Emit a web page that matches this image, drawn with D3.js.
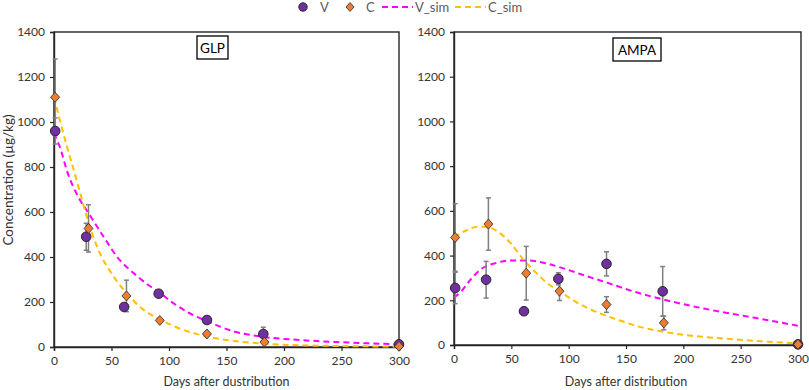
<!DOCTYPE html>
<html>
<head>
<meta charset="utf-8">
<script src="https://cdn.jsdelivr.net/npm/d3@7/dist/d3.min.js"></script>
<style>
  body { margin: 0; background: #fff; }
  text { font-family: Lato, "Noto Sans", sans-serif; }
</style>
</head>
<body>
<script>
// observed days (V and C were sampled a day or two apart)
var daysV = [1, 28, 61, 91, 133, 182, 300];
var daysC = [1, 30, 63, 92, 133, 183, 300];

// GLP observations + error (sd)
var glpV = [960, 490, 178, 237, 120, 58, 12];
var glpVErr = [58, 60, 0, 0, 0, 30, 0];
var glpC = [1110, 527, 227, 118, 58, 22, 3];
var glpCErr = [170, 105, 70, 0, 0, 0, 0];

// AMPA observations + error
var ampaV = [255, 292, 151, 296, 363, 240, 3];
var ampaVErr = [70, 82, 0, 27, 54, 111, 0];
var ampaC = [481, 541, 321, 241, 181, 99, 3];
var ampaCErr = [151, 117, 120, 42, 35, 31, 0];

// simulated curves
var glpVSimDays = [0, 5, 12, 21, 30, 44, 55, 70, 83, 91, 101, 118, 133, 156, 182, 214, 246, 300];
var glpVSim = [950, 890, 772, 668, 595, 483, 400, 325, 272, 245, 205, 150, 115, 70, 45, 31, 22, 12];
var glpCSimDays = [0, 5, 11, 17, 23, 29, 35, 41, 49, 63, 78, 92, 113, 133, 156, 182, 229, 300];
var glpCSim = [1110, 1010, 895, 790, 680, 570, 478, 405, 335, 240, 165, 123, 75, 47, 27, 15, 6, 2];

var ampaVSimDays = [0, 7, 15, 24, 36, 50, 65, 80, 94, 114, 132, 145, 158, 183, 218, 261, 300];
var ampaVSim = [212, 244, 296, 341, 366, 378, 378, 366, 345, 311, 281, 259, 237, 203, 163, 123, 86];
var ampaCSimDays = [0, 10, 21, 30, 39, 50, 60, 71, 82, 93, 109, 126, 144, 162, 183, 203, 232, 261, 300];
var ampaCSim = [481, 511, 529, 527, 504, 452, 385, 326, 274, 237, 185, 144, 111, 81, 59, 44, 30, 19, 7];

var yTicks = [0, 200, 400, 600, 800, 1000, 1200, 1400];
var xTicks = [0, 50, 100, 150, 200, 250, 300];

var colV = "#7030a0", colC = "#ed7d31", colVSim = "#ff00ff", colCSim = "#ffc000";
var W = 809, H = 390;

var svg = d3.select("body").append("svg").attr("width", W).attr("height", H);

function zip(d, v, e) {
  return d.map(function(x, i) { return {x: x, y: v[i], e: e ? e[i] : 0}; });
}

var panels = [
  {name: "GLP", x0: 54, x1: 399, fx: 399, y0: 347, y1: 32, box: [197, 36, 31, 23], xTitle: "Days after dustribution",
   V: zip(daysV, glpV, glpVErr), C: zip(daysC, glpC, glpCErr),
   VS: zip(glpVSimDays, glpVSim), CS: zip(glpCSimDays, glpCSim)},
  {name: "AMPA", x0: 454, x1: 798, fx: 801, y0: 345, y1: 32, box: [613, 38, 48, 23], xTitle: "Days after distribution",
   V: zip(daysV, ampaV, ampaVErr), C: zip(daysC, ampaC, ampaCErr),
   VS: zip(ampaVSimDays, ampaVSim), CS: zip(ampaCSimDays, ampaCSim)}
];

panels.forEach(function(p) {
  var x = d3.scaleLinear().domain([0, 300]).range([p.x0, p.x1]);
  var y = d3.scaleLinear().domain([0, 1400]).range([p.y0, p.y1]);
  var g = svg.append("g");

  // frame
  g.append("rect").attr("x", p.x0).attr("y", p.y1).attr("width", p.fx - p.x0).attr("height", p.y0 - p.y1)
    .attr("fill", "none").attr("stroke", "#262626").attr("stroke-width", 1.4);

  var yAx = g.append("g").attr("transform", "translate(" + p.x0 + ",0)")
    .call(d3.axisLeft(y).tickValues(yTicks).tickSize(4).tickPadding(5).tickFormat(d3.format("d")));
  var xAx = g.append("g").attr("transform", "translate(0," + p.y0 + ")")
    .call(d3.axisBottom(x).tickValues(xTicks).tickSize(4).tickPadding(5).tickFormat(d3.format("d")));
  [yAx, xAx].forEach(function(a) {
    a.select(".domain").attr("stroke", "#262626").attr("stroke-width", 1.4);
    a.selectAll(".tick line").attr("stroke", "#262626").attr("stroke-width", 1.2);
    a.selectAll(".tick text").attr("fill", "#333").style("font-size", "12px");
  });

  // axis title
  g.append("text").attr("x", (p.x0 + p.x1) / 2).attr("y", 386).attr("text-anchor", "middle")
    .attr("fill", "#333").style("font-size", "12.5px").text(p.xTitle);

  // panel label box
  g.append("rect").attr("x", p.box[0]).attr("y", p.box[1]).attr("width", p.box[2]).attr("height", p.box[3])
    .attr("fill", "#fff").attr("stroke", "#000").attr("stroke-width", 1.3);
  g.append("text").attr("x", p.box[0] + p.box[2] / 2).attr("y", p.box[1] + 16.5).attr("text-anchor", "middle")
    .attr("fill", "#000").style("font-size", "13.5px").text(p.name);

  // sim curves
  var line = d3.line().x(function(d) { return x(d.x); }).y(function(d) { return y(d.y); }).curve(d3.curveMonotoneX);
  g.append("path").datum(p.VS).attr("d", line).attr("fill", "none").attr("stroke", colVSim)
    .attr("stroke-width", 2).attr("stroke-dasharray", "6,4");
  g.append("path").datum(p.CS).attr("d", line).attr("fill", "none").attr("stroke", colCSim)
    .attr("stroke-width", 2).attr("stroke-dasharray", "6,4");

  // error bars
  var errs = p.V.concat(p.C).filter(function(d) { return d.e > 0; });
  var eb = g.selectAll(".err").data(errs).enter().append("g").attr("class", "err")
    .attr("stroke", "#7f7f7f").attr("stroke-width", 1.5);
  eb.append("line").attr("x1", function(d) { return x(d.x); }).attr("x2", function(d) { return x(d.x); })
    .attr("y1", function(d) { return y(d.y - d.e); }).attr("y2", function(d) { return y(d.y + d.e); });
  [-1, 1].forEach(function(s) {
    eb.append("line").attr("x1", function(d) { return x(d.x) - 2.5; }).attr("x2", function(d) { return x(d.x) + 2.5; })
      .attr("y1", function(d) { return y(d.y + s * d.e); }).attr("y2", function(d) { return y(d.y + s * d.e); });
  });

  // markers
  g.selectAll(".v").data(p.V).enter().append("circle").attr("class", "v")
    .attr("cx", function(d) { return x(d.x); }).attr("cy", function(d) { return y(d.y); }).attr("r", 4.8)
    .attr("fill", colV).attr("stroke", "#262626").attr("stroke-width", 1);
  g.selectAll(".c").data(p.C).enter().append("path").attr("class", "c")
    .attr("transform", function(d) { return "translate(" + x(d.x) + "," + y(d.y) + ")"; })
    .attr("d", "M0,-5L4.5,0L0,5L-4.5,0Z")
    .attr("fill", colC).attr("stroke", "#262626").attr("stroke-width", 0.8);
});

// y title (left panel only)
svg.append("text").attr("transform", "translate(13,180)rotate(-90)").attr("text-anchor", "middle")
  .attr("fill", "#333").style("font-size", "13.5px").text("Concentration (µg/kg)");

// legend
var lg = svg.append("g").attr("fill", "#595959").style("font-size", "13px");
lg.append("circle").attr("cx", 303).attr("cy", 7).attr("r", 4.2).attr("fill", colV).attr("stroke", "#262626");
lg.append("text").attr("x", 320).attr("y", 12).text("V");
lg.append("path").attr("transform", "translate(350,7)").attr("d", "M0,-4.5L4,0L0,4.5L-4,0Z")
  .attr("fill", colC).attr("stroke", "#262626").attr("stroke-width", 0.8);
lg.append("text").attr("x", 366).attr("y", 12).text("C");
lg.append("line").attr("x1", 382).attr("x2", 413).attr("y1", 7).attr("y2", 7)
  .attr("stroke", colVSim).attr("stroke-width", 2).attr("stroke-dasharray", "6,4");
lg.append("text").attr("x", 415).attr("y", 12).text("V_sim");
lg.append("line").attr("x1", 455).attr("x2", 486).attr("y1", 7).attr("y2", 7)
  .attr("stroke", colCSim).attr("stroke-width", 2).attr("stroke-dasharray", "6,4");
lg.append("text").attr("x", 488).attr("y", 12).text("C_sim");
</script>
</body>
</html>
